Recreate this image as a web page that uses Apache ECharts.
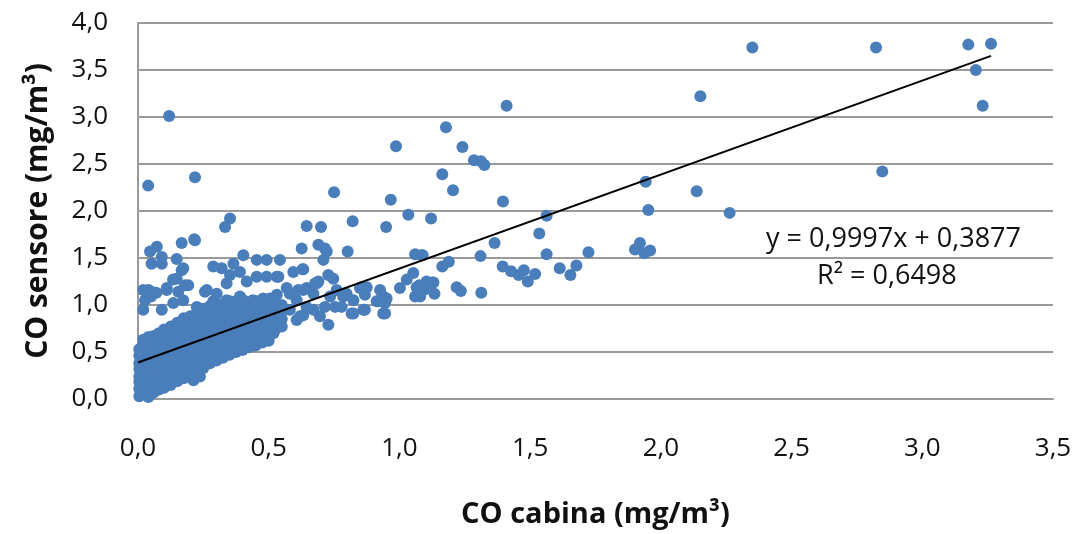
<!DOCTYPE html>
<html>
<head>
<meta charset="utf-8">
<title>CO sensore vs CO cabina</title>
<script src="https://cdn.jsdelivr.net/npm/echarts@6/dist/echarts.min.js"></script>
<style>
  html, body { margin: 0; padding: 0; background: #ffffff; }
  #chart { width: 1082px; height: 534px; }
</style>
</head>
<body>
<div id="chart"></div>
<script>
// Axis ticks
const xTicks = [0, 0.5, 1.0, 1.5, 2.0, 2.5, 3.0, 3.5];
const yTicks = [0, 0.5, 1.0, 1.5, 2.0, 2.5, 3.0, 3.5, 4.0];

// Linear fit reported on the chart
const trendSlope = 0.9997;
const trendIntercept = 0.3877;
const trendR2 = 0.6498;

// Measurements: CO cabina (x) vs CO sensore (y), mg/m3
// dense low-concentration cluster
const coCabinaLow = [
  0.005,0.005,0.005,0.005,0.005,0.005,0.005,0.005,
  0.02,0.02,0.02,0.02,0.02,0.02,0.02,0.02,0.02,
  0.04,0.04,0.04,0.04,0.04,0.04,0.04,0.04,0.04,0.04,
  0.06,0.06,0.06,0.06,0.06,0.06,0.06,0.06,0.06,
  0.08,0.08,0.08,0.08,0.08,0.08,0.08,0.08,0.08,
  0.10,0.10,0.10,0.10,0.10,0.10,0.10,0.10,0.10,
  0.125,0.125,0.125,0.125,0.125,0.125,0.125,0.125,0.125,
  0.15,0.15,0.15,0.15,0.15,0.15,0.15,0.15,0.15,
  0.175,0.175,0.175,0.175,0.175,0.175,0.175,0.175,0.175,
  0.20,0.20,0.20,0.20,0.20,0.20,0.20,0.20,0.20,
  0.225,0.225,0.225,0.225,0.225,0.225,0.225,0.225,0.225,
  0.25,0.25,0.25,0.25,0.25,0.25,0.25,0.25,0.25,
  0.275,0.275,0.275,0.275,0.275,0.275,0.275,0.275,0.275,
  0.30,0.30,0.30,0.30,0.30,0.30,0.30,0.30,0.30,
  0.325,0.325,0.325,0.325,0.325,0.325,0.325,0.325,
  0.35,0.35,0.35,0.35,0.35,0.35,0.35,0.35,
  0.375,0.375,0.375,0.375,0.375,0.375,0.375,0.375,
  0.40,0.40,0.40,0.40,0.40,0.40,0.40,
  0.425,0.425,0.425,0.425,0.425,0.425,0.425,
  0.45,0.45,0.45,0.45,0.45,0.45,0.45,
  0.475,0.475,0.475,0.475,0.475,0.475,
  0.50,0.50,0.50,0.50,0.50,0.50,
  0.525,0.525,0.525,0.525,
  0.55,0.55,0.55,0.55
];
const coSensoreLow = [
  0.03,0.11,0.18,0.24,0.32,0.38,0.46,0.53,
  0.06,0.13,0.21,0.28,0.35,0.44,0.50,0.58,0.63,
  0.02,0.09,0.17,0.24,0.31,0.39,0.45,0.53,0.60,0.66,
  0.07,0.14,0.22,0.31,0.37,0.44,0.52,0.60,0.67,
  0.10,0.17,0.25,0.34,0.41,0.48,0.56,0.63,0.70,
  0.12,0.21,0.28,0.35,0.44,0.51,0.59,0.66,0.74,
  0.15,0.23,0.32,0.39,0.47,0.54,0.62,0.71,0.77,
  0.19,0.26,0.35,0.43,0.50,0.58,0.67,0.73,0.81,
  0.22,0.30,0.37,0.46,0.54,0.62,0.69,0.77,0.86,
  0.25,0.33,0.41,0.48,0.57,0.65,0.73,0.80,0.88,
  0.27,0.36,0.44,0.52,0.61,0.68,0.76,0.84,0.92,
  0.33,0.40,0.49,0.57,0.64,0.73,0.80,0.88,0.96,
  0.38,0.46,0.53,0.62,0.70,0.77,0.86,0.93,0.99,
  0.41,0.49,0.57,0.66,0.73,0.81,0.88,0.96,1.02,
  0.44,0.52,0.61,0.68,0.76,0.84,0.91,0.98,
  0.47,0.55,0.63,0.71,0.79,0.87,0.94,1.01,
  0.50,0.58,0.66,0.74,0.82,0.90,0.97,1.04,
  0.52,0.60,0.69,0.76,0.84,0.92,0.99,
  0.55,0.63,0.71,0.79,0.87,0.95,1.02,
  0.57,0.65,0.73,0.81,0.89,0.96,1.04,
  0.60,0.68,0.76,0.84,0.92,0.99,
  0.62,0.71,0.79,0.87,0.94,1.01,
  0.74,0.82,0.90,0.97,
  0.77,0.85,0.93,1.00
];

// scattered points outside the dense cluster
const coCabinaMid = [
  0.02,0.04,0.05,0.07,0.11,0.134,0.167,0.167,0.218,0.027,0.091,0.135,0.173,
  0.046,0.072,0.091,0.052,0.091,0.148,0.173,0.148,0.180,0.020,0.052,0.110,0.154,0.192,
  0.288,0.320,0.352,0.339,0.365,0.403,0.390,0.416,0.454,0.492,0.543,0.454,0.492,0.531,
  0.263,0.301,0.339,0.390,0.439,0.479,0.531,0.569,0.581,0.607,0.256,0.225,0.288,0.352,
  0.403,0.454,0.505,0.422,0.237,0.212,0.518,0.467,0.492,
  0.333,0.352,0.215,0.626,0.690,0.715,0.722,0.709,0.802,0.594,0.632,0.537,0.728,0.747,0.690,
  0.613,0.645,0.684,0.671,0.760,0.798,0.824,0.849,0.868,0.875,0.926,0.938,0.913,0.945,
  0.938,0.862,0.817,0.754,0.728,0.696,0.632,0.607,0.543,0.581,0.531,0.505,
  0.632,0.677,0.735,0.785,0.856,0.951,0.919,0.645,0.671,0.715,0.779,0.620,0.824,0.868,0.945,
  0.645,0.700,0.821,0.949,1.034,0.630,0.750,0.967,
  1.053,1.028,1.002,1.066,1.111,1.060,1.092,1.104,1.127,1.098,1.134,1.079,1.130,1.076,
  1.219,1.235,1.313,1.089,1.310,1.563,1.723,1.164,1.189,1.060,1.085,
  1.395,1.427,1.456,1.476,1.491,1.519,1.613,1.654,1.677,1.364,1.535,1.563,
  1.121,1.164,1.205,1.396,1.178,1.241,1.285,1.312,1.325,1.410,0.987,
  0.039,0.119,0.218,
  1.901,1.920,1.959,1.937,1.942,1.952,2.137,2.263,2.151,2.847,
  2.350,2.823,3.176,3.263,3.205,3.231
];
const coSensoreMid = [
  0.95,1.16,1.09,1.13,1.18,1.27,1.37,1.66,1.69,1.05,0.95,1.02,1.05,
  1.57,1.62,1.51,1.44,1.44,1.49,1.39,1.28,1.21,1.16,1.14,1.16,1.14,1.21,
  1.41,1.39,1.32,1.23,1.44,1.53,1.35,1.25,1.48,1.48,1.48,1.30,1.30,1.30,
  1.16,1.12,1.05,1.09,1.05,1.07,1.11,1.18,1.12,1.05,1.14,0.98,1.04,1.04,
  1.05,1.04,1.07,0.56,0.24,0.20,0.70,0.73,0.77,
  1.83,1.92,1.70,1.60,1.64,1.60,1.57,1.48,1.57,1.35,1.38,1.30,1.32,1.28,1.25,
  1.16,1.18,1.23,1.12,1.16,1.12,1.05,1.18,1.11,1.19,1.16,1.09,1.04,1.02,
  0.91,0.95,0.91,0.98,0.79,0.88,0.89,0.84,0.81,0.95,1.00,0.89,
  1.16,1.23,1.09,1.09,1.19,1.07,1.04,0.98,0.95,0.98,0.98,0.88,0.91,0.95,0.91,
  1.84,1.83,1.89,1.83,1.96,1.38,2.20,2.12,
  1.34,1.27,1.18,1.19,1.21,1.09,1.16,1.25,1.24,1.17,1.12,1.09,1.24,1.21,
  1.19,1.15,1.13,1.53,1.52,1.54,1.56,1.41,1.46,1.54,1.53,
  1.41,1.36,1.32,1.37,1.25,1.33,1.39,1.32,1.42,1.66,1.76,1.95,
  1.92,2.39,2.22,2.10,2.89,2.68,2.54,2.53,2.49,3.12,2.69,
  2.27,3.01,2.36,
  1.59,1.66,1.58,1.55,2.31,2.01,2.21,1.98,3.22,2.42,
  3.74,3.74,3.77,3.78,3.50,3.12
];

const points = [];
coCabinaLow.forEach((x, i) => points.push([x, coSensoreLow[i]]));
coCabinaMid.forEach((x, i) => points.push([x, coSensoreMid[i]]));

const xMaxData = Math.max(...coCabinaLow, ...coCabinaMid);
const trendLine = [
  [0, trendIntercept],
  [xMaxData, trendSlope * xMaxData + trendIntercept]
];

const fmt = v => v.toFixed(1).replace('.', ',');
const fmtEq = v => String(v).replace('.', ',');

const font = "'Open Sans', 'Noto Sans', sans-serif";
const chart = echarts.init(document.getElementById('chart'), null, { renderer: 'canvas' });

chart.setOption({
  backgroundColor: '#ffffff',
  animation: false,
  grid: { left: 138, right: 29, top: 23, bottom: 135 },
  xAxis: {
    type: 'value',
    min: xTicks[0],
    max: xTicks[xTicks.length - 1],
    interval: 0.5,
    name: 'CO cabina (mg/m³)',
    nameLocation: 'middle',
    nameGap: 101,
    nameTextStyle: { fontFamily: font, fontSize: 29, fontWeight: 'bold', color: '#111' },
    axisLine: { show: true, lineStyle: { color: '#9a9a9a', width: 2 } },
    axisTick: { show: false },
    splitLine: { show: false },
    axisLabel: {
      margin: 37,
      fontFamily: font, fontSize: 26, color: '#111',
      formatter: v => fmt(v)
    }
  },
  yAxis: {
    type: 'value',
    min: yTicks[0],
    max: yTicks[yTicks.length - 1],
    interval: 0.5,
    name: 'CO sensore (mg/m³)',
    nameLocation: 'middle',
    nameRotate: 90,
    nameGap: 85,
    nameTextStyle: { fontFamily: font, fontSize: 30, fontWeight: 'bold', color: '#111' },
    axisLine: { show: true, lineStyle: { color: '#9a9a9a', width: 2 } },
    axisTick: { show: false },
    splitLine: { show: true, lineStyle: { color: '#9a9a9a', width: 2 } },
    axisLabel: {
      margin: 30,
      fontFamily: font, fontSize: 26, color: '#111',
      formatter: v => fmt(v)
    }
  },
  series: [
    {
      type: 'scatter',
      data: points,
      symbol: 'circle',
      symbolSize: 12,
      itemStyle: { color: '#4a7ebb', opacity: 1 },
      z: 2
    },
    {
      type: 'line',
      data: trendLine,
      showSymbol: false,
      symbol: 'none',
      lineStyle: { color: '#000000', width: 2 },
      z: 3
    }
  ],
  graphic: [
    {
      type: 'text',
      right: 61,
      top: 226,
      style: {
        text: 'y = ' + fmtEq(trendSlope) + 'x + ' + fmtEq(trendIntercept),
        font: '27px ' + font,
        fill: '#111'
      }
    },
    {
      type: 'text',
      left: 817,
      top: 263,
      style: {
        text: 'R² = ' + fmtEq(trendR2),
        font: '27px ' + font,
        fill: '#111'
      }
    }
  ]
});
</script>
</body>
</html>
